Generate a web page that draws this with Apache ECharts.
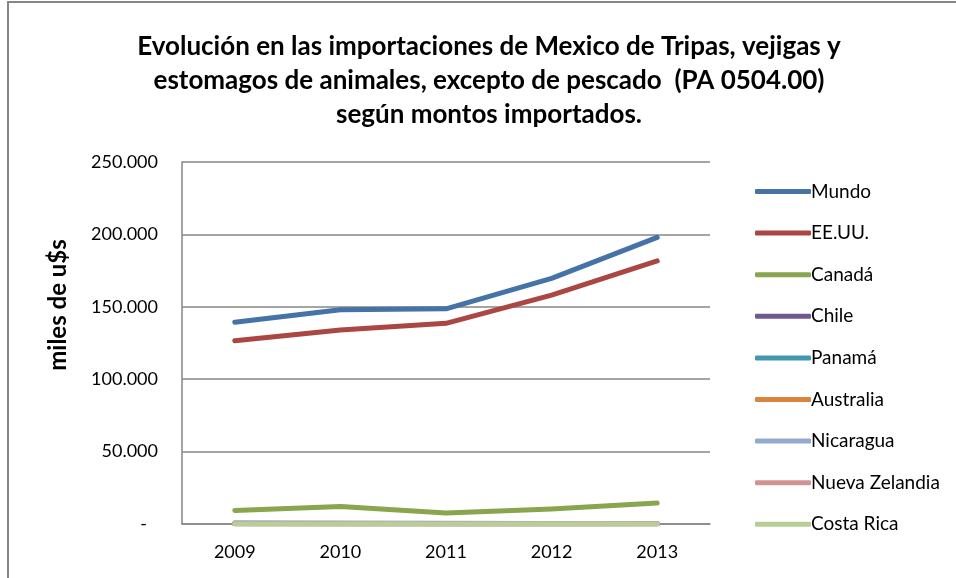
<!DOCTYPE html>
<html>
<head>
<meta charset="utf-8">
<script src="https://cdn.jsdelivr.net/npm/echarts@6/dist/echarts.min.js"></script>
<style>
	html, body { margin: 0; padding: 0; background: #fff; }
	#chart { width: 956px; height: 578px; }
</style>
</head>
<body>
<div id="chart"></div>
<script>
	// datos (miles de u$s)
	var years = ['2009', '2010', '2011', '2012', '2013'];
	var countries = ['Mundo', 'EE.UU.', 'Canadá', 'Chile', 'Panamá', 'Australia', 'Nicaragua', 'Nueva Zelandia', 'Costa Rica'];
	var mundo = [139300, 148000, 148600, 169600, 197900];
	var eeuu = [126600, 134000, 138600, 158100, 181700];
	var canada = [9400, 12100, 7600, 10300, 14500];
	var chile = [300, 250, 200, 150, 200];
	var panama = [200, 150, 100, 150, 100];
	var australia = [150, 100, 150, 100, 100];
	var nicaragua = [900, 700, 500, 400, 300];
	var nuevaZelandia = [100, 100, 50, 50, 100];
	var costaRica = [50, 50, 50, 50, 50];
	var colors = ['#4572A7', '#AA4643', '#89A54E', '#71588F', '#4198AF', '#DB843D', '#93A9CF', '#D19392', '#B9CD96'];

	var seriesData = [mundo, eeuu, canada, chile, panama, australia, nicaragua, nuevaZelandia, costaRica];
	var fontName = 'Lato, "Open Sans", sans-serif';

	function formatMiles(v) {
		if (v === 0) return '{cero|-}';
		return String(v).replace(/\B(?=(\d{3})+(?!\d))/g, '.');
	}

	var series = [];
	for (var i = 0; i < countries.length; i++) {
		series.push({
			name: countries[i],
			type: 'line',
			data: seriesData[i],
			symbol: 'none',
			lineStyle: { width: 5, color: colors[i], cap: 'round', join: 'round' },
			itemStyle: { color: colors[i] }
		});
	}

	var option = {
		animation: false,
		color: colors,
		title: {
			text: 'Evolución en las importaciones de Mexico de Tripas, vejigas y\nestomagos de animales, excepto de pescado  (PA 0504.00)\nsegún montos importados.',
			left: 484,
			top: 25,
			textAlign: 'center',
			textStyle: {
				fontFamily: fontName,
				fontSize: 26,
				fontWeight: 'bold',
				color: '#000',
				lineHeight: 34
			}
		},
		legend: {
			orient: 'vertical',
			left: 750,
			top: 177,
			itemWidth: 56,
			itemHeight: 5,
			itemGap: 22.6,
			icon: 'roundRect',
			data: countries,
			textStyle: { fontFamily: fontName, fontSize: 19, lineHeight: 19, color: '#000', padding: [0, 0, 0, -5] }
		},
		grid: {
			left: 182,
			top: 162,
			width: 528,
			height: 362
		},
		xAxis: {
			type: 'category',
			data: years,
			boundaryGap: true,
			axisLine: { lineStyle: { color: '#868686', width: 1.5 } },
			axisTick: { show: false },
			axisLabel: { fontFamily: fontName, fontSize: 18, color: '#000', margin: 19 }
		},
		yAxis: {
			type: 'value',
			min: 0,
			max: 250000,
			interval: 50000,
			axisLine: { show: true, lineStyle: { color: '#868686', width: 1.5 } },
			axisTick: { show: false },
			splitLine: { lineStyle: { color: '#868686', width: 1.5 } },
			axisLabel: {
				fontFamily: fontName,
				fontSize: 18,
				color: '#000',
				margin: 24,
				formatter: formatMiles,
				rich: {
					cero: { fontFamily: fontName, fontSize: 18, color: '#000', padding: [0, 11, 0, 0] }
				}
			}
		},
		graphic: [{
			type: 'rect',
			shape: { x: 8, y: 2, width: 960, height: 600 },
			style: { fill: 'none', stroke: '#868686', lineWidth: 2 },
			silent: true
		}, {
			// titulo del eje Y
			type: 'text',
			x: 58,
			y: 305,
			rotation: Math.PI / 2,
			style: {
				text: 'miles de u$s',
				fontFamily: fontName,
				fontSize: 24,
				fontWeight: 'bold',
				fill: '#000',
				textAlign: 'center',
				textVerticalAlign: 'middle'
			},
			silent: true
		}],
		series: series
	};

	echarts.init(document.getElementById('chart')).setOption(option);
</script>
</body>
</html>
